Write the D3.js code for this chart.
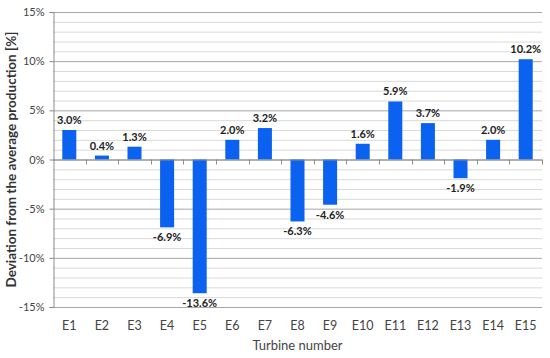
<!DOCTYPE html>
<html><head><meta charset="utf-8">
<script src="https://cdn.jsdelivr.net/npm/d3@7"></script>
<style>body{margin:0;background:#fff}svg{display:block}text{font-family:Lato,"Open Sans",sans-serif}</style>
</head><body><svg id="c" width="550" height="358"></svg>
<script>
const categories = ["E1","E2","E3","E4","E5","E6","E7","E8","E9","E10","E11","E12","E13","E14","E15"];
const values = [3.0,0.4,1.3,-6.9,-13.6,2.0,3.2,-6.3,-4.6,1.6,5.9,3.7,-1.9,2.0,10.2];
const yTicks = [-15,-10,-5,0,5,10,15];
const yTitle = "Deviation from the average production [%]";
const xTitle = "Turbine number";

const svg = d3.select("#c");
const L = 53, R = 542, T = 12, B = 307;
const x = d3.scaleBand().domain(categories).range([L, R]).paddingInner(0.57).paddingOuter(0.285);
const xb = d3.scaleBand().domain(categories).range([L, R]);
const y = d3.scaleLinear().domain([-15, 15]).range([B, T]);

// minor gridlines
svg.append("g").selectAll("line").data(d3.range(-15, 16, 1).filter(v => v % 5 !== 0))
  .join("line").attr("x1", L).attr("x2", R).attr("y1", d => y(d)+0.5).attr("y2", d => y(d)+0.5)
  .attr("stroke", "#d9d9d9").attr("stroke-width", 1);
// major gridlines
svg.append("g").selectAll("line").data(yTicks)
  .join("line").attr("x1", L).attr("x2", R).attr("y1", d => y(d)+0.5).attr("y2", d => y(d)+0.5)
  .attr("stroke", "#a6a6a6").attr("stroke-width", 1);

// y axis
const ya = svg.append("g").attr("transform", `translate(${L+0.5},0)`)
  .call(d3.axisLeft(y).tickValues(yTicks).tickFormat(d => d + "%").tickSize(4).tickPadding(5));
ya.select(".domain").attr("stroke", "#8c8c8c");
ya.selectAll(".tick line").attr("stroke", "#8c8c8c");
ya.selectAll("text").attr("fill", "#444").style("font-size", "11px").style("font-family", "Lato,sans-serif");

// bars
svg.append("g").selectAll("rect").data(values).join("rect")
  .attr("x", (d, i) => x(categories[i]))
  .attr("width", x.bandwidth())
  .attr("y", d => y(Math.max(0, d)))
  .attr("height", d => Math.abs(y(d) - y(0)))
  .attr("fill", "#0b62f0");

// zero axis with ticks at band boundaries
svg.append("line").attr("x1", L).attr("x2", R).attr("y1", y(0)+0.5).attr("y2", y(0)+0.5).attr("stroke", "#8c8c8c");
svg.append("g").selectAll("line").data(categories.slice(1).concat(["end"]))
  .join("line")
  .attr("x1", (d, i) => Math.round(xb(categories[i]) + xb.bandwidth()) + 0.5)
  .attr("x2", (d, i) => Math.round(xb(categories[i]) + xb.bandwidth()) + 0.5)
  .attr("y1", y(0)).attr("y2", y(0) + 5).attr("stroke", "#8c8c8c");

// value labels
svg.append("g").selectAll("text").data(values).join("text")
  .attr("x", (d, i) => x(categories[i]) + x.bandwidth() / 2)
  .attr("y", d => d >= 0 ? y(d) - 6 : y(d) + 14)
  .attr("text-anchor", "middle")
  .attr("fill", "#222").style("font-size", "11px").style("font-weight", "bold")
  .text(d => d.toFixed(1) + "%");

// category labels
svg.append("g").selectAll("text").data(categories).join("text")
  .attr("x", d => xb(d) + xb.bandwidth() / 2)
  .attr("y", 330).attr("text-anchor", "middle")
  .attr("fill", "#444").style("font-size", "12.5px")
  .text(d => d);

svg.append("text").attr("x", (L + R) / 2).attr("y", 350).attr("text-anchor", "middle")
  .attr("fill", "#444").style("font-size", "13px").text(xTitle);

svg.append("text").attr("transform", `translate(16,${(T + B) / 2}) rotate(-90)`)
  .attr("text-anchor", "middle").attr("fill", "#333").style("font-size", "13.5px").style("font-weight", "bold")
  .text(yTitle);
</script></body></html>
